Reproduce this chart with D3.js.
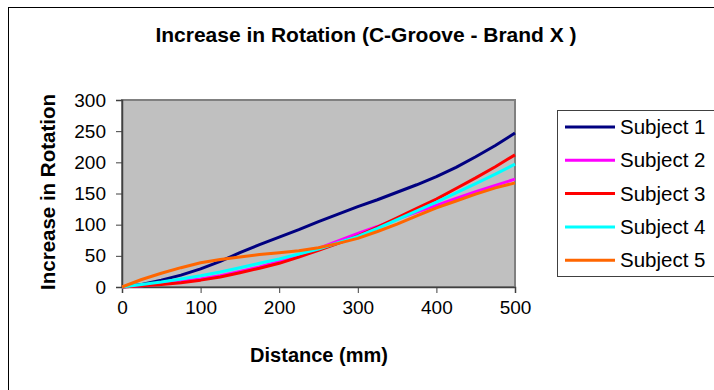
<!DOCTYPE html>
<html><head><meta charset="utf-8">
<script src="https://cdn.jsdelivr.net/npm/d3@7"></script>
<style>html,body{margin:0;padding:0;background:#fff;}svg{display:block;font-family:"Liberation Sans",Arial,sans-serif;}</style>
</head><body>
<script>
const distance = [0,25,50,75,100,125,150,175,200,225,250,275,300,325,350,375,400,425,450,475,500];
const subject1 = [0,4,11,19,29,41,55,68,80,92,105,117,129,140,152,164,177,192,209,227,247];
const subject2 = [0,2,5,9,13,18,25,32,41,51,62,74,86,97,109,120,131,142,153,163,173];
const subject3 = [0,2,4,7,11,16,23,30,38,48,59,70,82,96,111,126,141,158,175,193,212];
const subject4 = [0,4,8,13,18,24,31,38,45,53,61,71,81,94,108,122,136,151,166,181,197];
const subject5 = [0,12,22,31,39,44,48,52,55,58,63,70,78,89,101,114,127,138,149,159,167];
const seriesNames = ["Subject 1","Subject 2","Subject 3","Subject 4","Subject 5"];
const seriesColors = ["#000080","#FF00FF","#FF0000","#00FFFF","#FF6600"];
const xTicks = [0,100,200,300,400,500];
const yTicks = [0,50,100,150,200,250,300];
const titleText = "Increase in Rotation (C-Groove - Brand X )";
const xTitle = "Distance (mm)";
const yTitle = "Increase in Rotation";

const W = 714, H = 390;
const svg = d3.select("body").append("svg").attr("width", W).attr("height", H);
svg.append("rect").attr("x",8.5).attr("y",7.5).attr("width",720).attr("height",400)
  .attr("fill","#fff").attr("stroke","#000").attr("stroke-width",1);

const x = d3.scaleLinear().domain([0,500]).range([122,515]);
const y = d3.scaleLinear().domain([0,300]).range([287,100]);

// plot area
svg.append("rect").attr("x",x(0)).attr("y",y(300)).attr("width",x(500)-x(0)).attr("height",y(0)-y(300))
  .attr("fill","#C0C0C0").attr("stroke","#808080").attr("stroke-width",2);

// axes
const xAxis = svg.append("g").attr("transform",`translate(0,${y(0)})`)
  .call(d3.axisBottom(x).tickValues(xTicks).tickSize(6).tickPadding(8).tickFormat(d3.format("d")));
const yAxis = svg.append("g").attr("transform",`translate(${x(0)},0)`)
  .call(d3.axisLeft(y).tickValues(yTicks).tickSize(6).tickPadding(10).tickFormat(d3.format("d")));
[xAxis,yAxis].forEach(g=>{
  g.select(".domain").attr("stroke","#404040").attr("stroke-width",1.5);
  g.selectAll(".tick line").attr("stroke","#404040").attr("stroke-width",1);
  g.selectAll(".tick text").attr("font-size",19).attr("fill","#000").attr("font-family","'Liberation Sans',Arial,sans-serif");
});

// lines
const allSeries = [subject1,subject2,subject3,subject4,subject5];
const line = d3.line().x((d,i)=>x(distance[i])).y(d=>y(d));
allSeries.forEach((s,k)=>{
  svg.append("path").datum(s).attr("d",line).attr("fill","none")
    .attr("stroke",seriesColors[k]).attr("stroke-width",3).attr("stroke-linejoin","round");
});

// titles
svg.append("text").attr("x",366).attr("y",42).attr("text-anchor","middle")
  .attr("font-size",21).attr("font-weight","bold").text(titleText);
svg.append("text").attr("x",319).attr("y",362).attr("text-anchor","middle")
  .attr("font-size",20).attr("font-weight","bold").text(xTitle);
svg.append("text").attr("transform","translate(55,192) rotate(-90)").attr("text-anchor","middle")
  .attr("font-size",20.5).attr("font-weight","bold").text(yTitle);

// legend
const lg = svg.append("g");
lg.append("rect").attr("x",557.5).attr("y",110.5).attr("width",200).attr("height",166)
  .attr("fill","#fff").attr("stroke","#404040").attr("stroke-width",1);
seriesNames.forEach((n,k)=>{
  const cy = 127 + k*33.3;
  lg.append("line").attr("x1",565).attr("x2",615).attr("y1",cy).attr("y2",cy)
    .attr("stroke",seriesColors[k]).attr("stroke-width",3);
  lg.append("text").attr("x",620).attr("y",cy+7).attr("font-size",20.5).text(n);
});
</script>
</body></html>
